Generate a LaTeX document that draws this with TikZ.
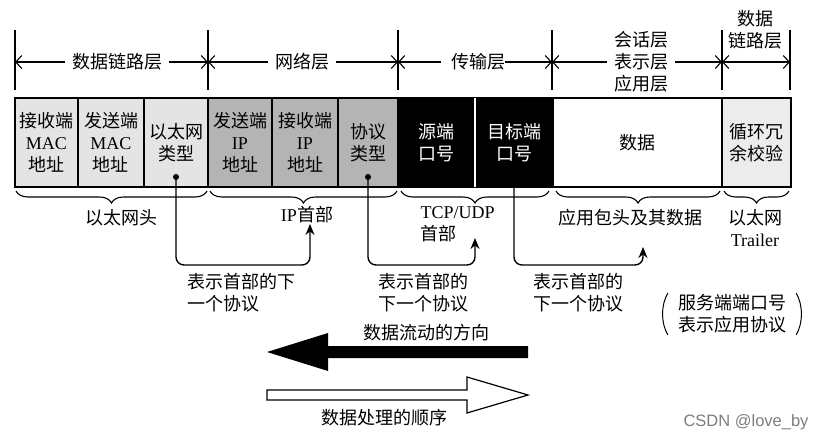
\documentclass[tikz,border=0pt]{standalone}
\usepackage{fontspec}
\setmainfont{Noto Sans CJK SC}
\newfontfamily\lat{Liberation Serif}
\newfontfamily\wmfont{Liberation Sans}
\usetikzlibrary{arrows.meta, positioning, decorations.pathreplacing, calc}
\definecolor{ethgray}{RGB}{228,228,228}
\definecolor{ipgray}{RGB}{180,180,180}
\definecolor{trlgray}{RGB}{236,236,236}
\definecolor{markgray}{RGB}{125,125,125}

\begin{document}
\begin{tikzpicture}[x=1pt, y=-1pt, font=\fontsize{18}{22}\selectfont,
    >={Straight Barb[length=6pt,width=13pt]},
    field/.style={draw, line width=1.2pt, inner sep=0pt, outer sep=0pt,
        minimum height=89pt, align=center},
    layer/.style={inner xsep=7pt, inner ysep=0pt, align=center},
    layarr/.style={->, line width=1.1pt},
    brc/.style={line width=1.1pt, decorate,
        decoration={brace, mirror, amplitude=12pt}},
    dot/.style={circle, fill=black, inner sep=0pt, minimum size=6pt},
    nextarr/.style={line width=1.4pt, rounded corners=8pt,
        -{Stealth[length=11pt,width=9pt]}},
    note/.style={align=left, anchor=west}]
    \useasboundingbox (0,0) rectangle (831,442);

    % Frame fields
    \node[field, fill=ethgray, minimum width=63pt, anchor=north west] (dmac) at (15,98) {接收端\\{\lat MAC}\\地址};
    \node[field, fill=ethgray, minimum width=66pt, right=0pt of dmac] (smac) {发送端\\{\lat MAC}\\地址};
    \node[field, fill=ethgray, minimum width=64pt, right=0pt of smac] (etype) {以太网\\类型};
    \node[field, fill=ipgray, minimum width=64pt, right=0pt of etype] (sip) {发送端\\{\lat IP}\\地址};
    \node[field, fill=ipgray, minimum width=66pt, right=0pt of sip] (dip) {接收端\\{\lat IP}\\地址};
    \node[field, fill=ipgray, minimum width=60pt, right=0pt of dip] (proto) {协议\\类型};
    \node[field, fill=black, text=white, minimum width=77pt, right=0pt of proto] (sport) {源端\\口号};
    \node[field, fill=black, text=white, minimum width=78pt, right=0pt of sport] (dport) {目标端\\口号};
    \node[field, fill=white, minimum width=169pt, right=0pt of dport] (data) {数据};
    \node[field, fill=trlgray, minimum width=69pt, right=0pt of data] (fcs) {循环冗\\余校验};
    \draw[white, line width=1.2pt] (sport.north east) -- (sport.south east);

    % Layer ranges
    \foreach \x [count=\i] in {15,208,398,552,722,790} {
        \coordinate (t\i) at (\x,62);
        \draw[line width=1.4pt] (\x,30) -- (\x,90);
    }
    \node[layer] (dll) at (117,62) {数据链路层};
    \node[layer] (net) at (302,62) {网络层};
    \node[layer, inner xsep=0pt] (trans) at (478,62) {传输层};
    \node[layer] (app) at (641,62) {会话层\\表示层\\应用层};
    \node[layer] (dll2) at (755,30) {数据\\链路层};
    \draw[layarr] (dll.west) -- (t1);
    \draw[layarr] (dll.east) -- (t2);
    \draw[layarr] (net.west) -- (t2);
    \draw[layarr] (net.east) -- (t3);
    \draw[layarr] ([xshift=-10pt]trans.west) -- (t3);
    \draw[layarr] (trans.east) -- (t4);
    \draw[layarr] (app.west) -- (t4);
    \draw[layarr] (app.east) -- (t5);
    \draw[layarr, <->] (t5) -- (t6);

    % Header braces
    \draw[brc] (16,191) -- (207,191);
    \draw[brc] (210,191) -- (397,191);
    \draw[brc] (401,191) -- (549,191);
    \draw[brc] (556,191) -- (720,191);
    \draw[brc] (724,191) -- (789,191);
    \node (ethhdr) at (121,218) {以太网头};
    \node (iphdr) at (307,215) {{\lat IP}首部};
    \node[note] (tcphdr) at (417,224) {{\lat TCP/UDP}\\首部};
    \node (apphdr) at (630,218) {应用包头及其数据};
    \node[align=center] (trailer) at (755,228) {以太网\\{\lat Trailer}};

    % Next protocol pointers
    \node[dot] (dotA) at ([yshift=10pt]etype.south) {};
    \node[dot] (dotB) at ([yshift=10pt]proto.south) {};
    \coordinate (ipin) at (310,224);
    \coordinate (tcpin) at (475,238);
    \coordinate (appin) at (643,247);
    \draw[nextarr] (dotA.center) -- ++(0,88) -| (ipin);
    \draw[nextarr] (dotB.center) -- ++(0,88) -| (tcpin);
    \draw[nextarr] (dport.south) -- ++(0,78) -| (appin);
    \node[note] (nextA) at (184,293) {表示首部的下\\一个协议};
    \node[note] (nextB) at (375,293) {表示首部的\\下一个协议};
    \node[note] (nextC) at (530,293) {表示首部的\\下一个协议};

    % Server port note
    \node[align=center, inner xsep=10pt] (srv) at (732,314) {服务端端口号\\表示应用协议};
    \draw[line width=1pt] ([yshift=-2pt]srv.north west) .. controls +(-7,12) and +(-7,-12) .. ([yshift=2pt]srv.south west);
    \draw[line width=1pt] ([yshift=-2pt]srv.north east) .. controls +(7,12) and +(7,-12) .. ([yshift=2pt]srv.south east);

    % Direction arrows
    \fill (528,346) -- (328,346) -- (328,333) -- (267,352) -- (328,371) -- (328,358) -- (528,358) -- cycle;
    \draw[line width=1.2pt, fill=white] (267,390) -- (467,390) -- (467,377) -- (528,395) -- (467,413) -- (467,400) -- (267,400) -- cycle;
    \node (flow) at (426,333) {数据流动的方向};
    \node (order) at (384,418) {数据处理的顺序};

    \node[text=markgray, font=\wmfont\fontsize{16.5}{18}\selectfont] (mark) at (746,422) {CSDN @love\_by};
\end{tikzpicture}
\end{document}
